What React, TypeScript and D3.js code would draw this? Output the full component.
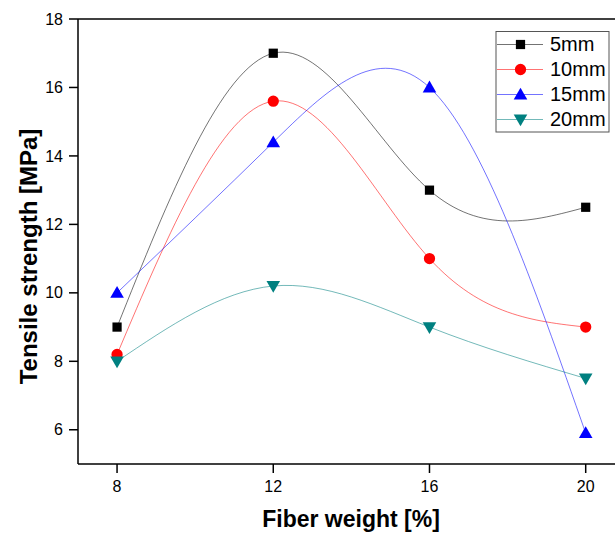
import React from "react";
import * as d3 from "d3";

const fiberWeights = [8, 12, 16, 20];
const seriesNames = ["5mm", "10mm", "15mm", "20mm"];
const s5mm = [9, 17, 13, 12.5];
const s10mm = [8.2, 15.6, 11, 9];
const s15mm = [10, 14.4, 16, 5.9];
const s20mm = [8, 10.2, 9, 7.5];
const seriesColors = ["#000000", "#ff0000", "#0000ff", "#008080"];
const yTicks = [6, 8, 10, 12, 14, 16, 18];
const xTicks = [8, 12, 16, 20];

const W = 615;
const H = 536;
const left = 78;
const top = 19;
const bottom = 464;
const right = 615;

export default function App() {
  const x = d3.scaleLinear().domain([7, 20]).range([left, 585.7]);
  const y = d3.scaleLinear().domain([5, 18]).range([bottom, top]);
  const allSeries = [s5mm, s10mm, s15mm, s20mm];
  const line = d3
    .line<[number, number]>()
    .x((d) => x(d[0]))
    .y((d) => y(d[1]))
    .curve(d3.curveNatural);
  const sym = [d3.symbolSquare, d3.symbolCircle, d3.symbolTriangle, d3.symbolTriangle];
  const symSize = [85, 100, 80, 80];
  const marker = (i: number, cx: number, cy: number) => {
    const p = d3.symbol().type(sym[i]).size(symSize[i])();
    const rot = i === 3 ? 180 : 0;
    const dy = i === 2 ? 1 : i === 3 ? -1 : 0;
    return (
      <path
        d={p || ""}
        transform={`translate(${cx},${cy + dy}) rotate(${rot})`}
        fill={seriesColors[i]}
      />
    );
  };
  const font = "'Liberation Sans', Arial, sans-serif";
  return (
    <svg
      width={W}
      height={H}
      style={{ position: "absolute", left: 0, top: 0 }}
      fontFamily={font}
    >
      <rect width={W} height={H} fill="#fff" />
      {allSeries.map((s, i) => (
        <path
          key={"l" + i}
          d={line(fiberWeights.map((f, j) => [f, s[j]] as [number, number])) || ""}
          fill="none"
          stroke={seriesColors[i]}
          strokeOpacity={0.55}
          strokeWidth={1}
        />
      ))}
      {allSeries.map((s, i) => (
        <g key={"m" + i}>
          {fiberWeights.map((f, j) => (
            <g key={j}>{marker(i, x(f), y(s[j]))}</g>
          ))}
        </g>
      ))}
      {/* frame */}
      <line x1={left} x2={right} y1={top} y2={top} stroke="#000" strokeWidth={1.5} />
      <line x1={left} x2={right} y1={bottom} y2={bottom} stroke="#000" strokeWidth={1.5} />
      <line x1={left} x2={left} y1={top} y2={bottom} stroke="#000" strokeWidth={1.5} />
      {yTicks.map((t) => (
        <g key={"y" + t}>
          <line x1={left - 9} x2={left} y1={y(t)} y2={y(t)} stroke="#000" strokeWidth={1.5} />
          <text x={left - 15} y={y(t)} dy="0.35em" textAnchor="end" fontSize={16}>
            {t}
          </text>
        </g>
      ))}
      {xTicks.map((t) => (
        <g key={"x" + t}>
          <line x1={x(t)} x2={x(t)} y1={bottom} y2={bottom + 9} stroke="#000" strokeWidth={1.5} />
          <text x={x(t)} y={bottom + 27.5} textAnchor="middle" fontSize={16}>
            {t}
          </text>
        </g>
      ))}
      <text
        x={351}
        y={527}
        textAnchor="middle"
        fontSize={23}
        fontWeight="bold"
      >
        Fiber weight [%]
      </text>
      <text
        transform={`translate(37,256.5) rotate(-90)`}
        textAnchor="middle"
        fontSize={24}
        fontWeight="bold"
      >
        Tensile strength [MPa]
      </text>
      {/* legend */}
      <rect x={496} y={31.5} width={113} height={100.5} fill="#fff" stroke="#555" strokeWidth={1} />
      {seriesNames.map((n, i) => {
        const ly = 44.5 + i * 25;
        return (
          <g key={"lg" + i}>
            <line
              x1={497}
              x2={543}
              y1={ly}
              y2={ly}
              stroke={seriesColors[i]}
              strokeOpacity={0.55}
              strokeWidth={1}
            />
            {marker(i, 520.5, ly)}
            <text x={550} y={ly} dy="0.32em" fontSize={20}>
              {n}
            </text>
          </g>
        );
      })}
    </svg>
  );
}
